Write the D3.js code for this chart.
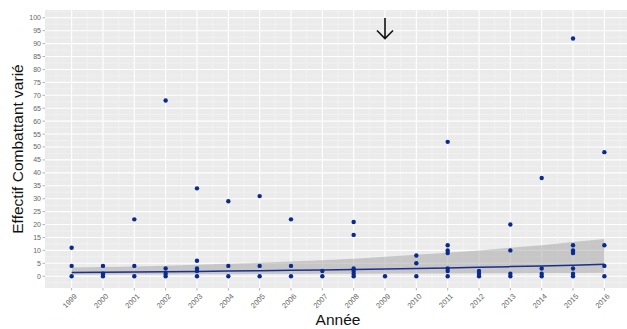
<!DOCTYPE html>
<html><head><meta charset="utf-8">
<script src="https://cdn.jsdelivr.net/npm/d3@7"></script>
<style>body{margin:0;background:#fff}svg{display:block}</style>
</head><body>
<svg id="c" width="627" height="329"></svg>
<script>
// Observations (year, count)
const years = [1999,2000,2001,2002,2003,2004,2005,2006,2007,2008,2009,2010,2011,2012,2013,2014,2015,2016];
const values = [
  [0,4,11],
  [0,1,4],
  [0,4,22],
  [0,1,3,68],
  [0,2,3,6,34],
  [0,4,29],
  [0,4,31],
  [0,4,22],
  [0,2],
  [0,1,2,3,16,21],
  [0],
  [0,5,8],
  [0,2,3,9,10,12,52],
  [0,1,2],
  [0,1,10,20],
  [0,1,3,38],
  [0,1,3,9,10,12,92],
  [0,4,12,48]
];
// Smoothed fit and confidence band
const fitValues   = [1.4,1.5,1.6,1.72,1.84,1.98,2.12,2.28,2.44,2.62,2.81,3.01,3.23,3.47,3.72,3.99,4.28,4.6];
const upperValues = [3.4,3.6,3.8,4.1,4.4,4.8,5.2,5.7,6.2,6.8,7.5,8.3,9.1,10.0,11.0,12.0,13.2,14.4];
const lowerValues = [0.55,0.6,0.65,0.7,0.75,0.8,0.85,0.9,0.95,1.0,1.05,1.1,1.1,1.15,1.2,1.25,1.3,1.35];
const yTicks = d3.range(0,101,5);
const arrowYear = 2009;

const svg = d3.select("#c");
const L=45, R=631, T=10, B=288;
const x = d3.scaleLinear().domain([1998.15,2016.85]).range([L,R]);
const y = d3.scaleLinear().domain([-4.55,103]).range([B,T]);
const FONT = "Liberation Sans, Arial, sans-serif";

svg.append("defs").append("clipPath").attr("id","pc").append("rect")
  .attr("x",L).attr("y",T).attr("width",R-L).attr("height",B-T);
const g = svg.append("g").attr("clip-path","url(#pc)");
g.append("rect").attr("x",L).attr("y",T).attr("width",R-L).attr("height",B-T).attr("fill","#EBEBEB");

// minor grid
const minorX = years.slice(0,-1).map(v=>v+0.5).concat([1998.5,2016.5]);
const minorY = yTicks.map(v=>v+2.5).concat([-2.5]);
g.selectAll(".mx").data(minorX).enter().append("line")
  .attr("x1",d=>x(d)).attr("x2",d=>x(d)).attr("y1",T).attr("y2",B)
  .attr("stroke","#F5F5F5").attr("stroke-width",0.6);
g.selectAll(".my").data(minorY).enter().append("line")
  .attr("y1",d=>y(d)).attr("y2",d=>y(d)).attr("x1",L).attr("x2",R)
  .attr("stroke","#F5F5F5").attr("stroke-width",0.6);
// major grid
g.selectAll(".gx").data(years).enter().append("line")
  .attr("x1",d=>x(d)).attr("x2",d=>x(d)).attr("y1",T).attr("y2",B)
  .attr("stroke","#fff").attr("stroke-width",1.1);
g.selectAll(".gy").data(yTicks).enter().append("line")
  .attr("y1",d=>y(d)).attr("y2",d=>y(d)).attr("x1",L).attr("x2",R)
  .attr("stroke","#fff").attr("stroke-width",1.1);

// band
const bandData = years.map((yr,i)=>({yr, lo:lowerValues[i], hi:upperValues[i], f:fitValues[i]}));
g.append("path").datum(bandData)
  .attr("d", d3.area().x(d=>x(d.yr)).y0(d=>y(d.lo)).y1(d=>y(d.hi)))
  .attr("fill","#999999").attr("fill-opacity",0.45);
g.append("path").datum(bandData)
  .attr("d", d3.line().x(d=>x(d.yr)).y(d=>y(d.f)))
  .attr("fill","none").attr("stroke","#1B2F8F").attr("stroke-width",1.5);

// points
const pts = [];
years.forEach((yr,i)=>values[i].forEach(v=>pts.push({yr,v})));
g.selectAll(".pt").data(pts).enter().append("circle")
  .attr("cx",d=>x(d.yr)).attr("cy",d=>y(d.v)).attr("r",2.2).attr("fill","#0A2A8E");

// arrow
const ax = x(arrowYear);
svg.append("path")
  .attr("d",`M${ax},18 L${ax},38.5 M${ax-8},30.5 L${ax},38.5 L${ax+8},30.5`)
  .attr("fill","none").attr("stroke","#111").attr("stroke-width",1.6);

// y axis labels
svg.selectAll(".yt").data(yTicks).enter().append("text")
  .attr("x",41).attr("y",d=>y(d)).attr("dy","0.35em").attr("text-anchor","end")
  .attr("font-family",FONT).attr("font-size",7)
  .attr("fill","#666").text(d=>d);
svg.selectAll(".yk").data(yTicks).enter().append("line")
  .attr("x1",42.5).attr("x2",L).attr("y1",d=>y(d)).attr("y2",d=>y(d))
  .attr("stroke","#666").attr("stroke-width",0.5);
// x axis labels
svg.selectAll(".xt").data(years).enter().append("text")
  .attr("transform",d=>`translate(${x(d)+4},${295}) rotate(-45)`)
  .attr("text-anchor","end").attr("dy","0.35em")
  .attr("font-family",FONT).attr("font-size",7.5)
  .attr("fill","#666").text(d=>d);
svg.selectAll(".xk").data(years).enter().append("line")
  .attr("x1",d=>x(d)).attr("x2",d=>x(d)).attr("y1",B).attr("y2",B+2.5)
  .attr("stroke","#666").attr("stroke-width",0.5);

// titles
svg.append("text").attr("x",338).attr("y",325).attr("text-anchor","middle")
  .attr("font-family",FONT).attr("font-size",15.5)
  .attr("fill","#111").text("Année");
svg.append("text").attr("transform",`translate(22.5,${(T+B)/2}) rotate(-90)`)
  .attr("text-anchor","middle")
  .attr("font-family",FONT).attr("font-size",15.5)
  .attr("fill","#111").text("Effectif Combattant varié");
</script>
</body></html>
